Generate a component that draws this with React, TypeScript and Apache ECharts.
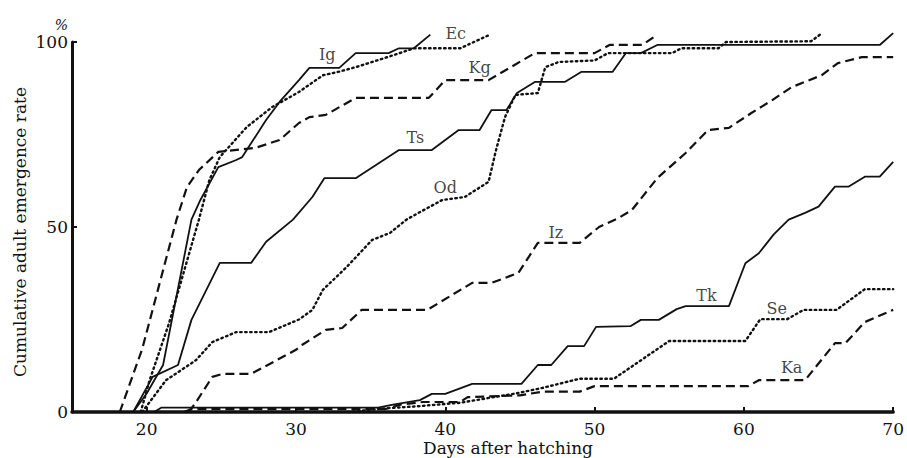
import React, { useEffect, useRef } from "react";
import * as echarts from "echarts";

// Days after hatching, cumulative adult emergence rate (%)
const igData = [[19.1,0],[20,5],[21.1,12.7],[23,52],[23.6,57.3],[24.8,66.2],[26,68.1],[26.4,68.9],[28,78.9],[28.9,83.8],[30.2,89.7],[30.9,93],[32.9,93],[34,97],[36.2,97],[36.9,98.3],[37.9,98.3],[39,102]];
const ecData = [[19.6,0],[20.2,8.6],[21.5,24],[23.5,52],[24.2,62.7],[24.9,68.9],[26.7,77],[28.4,82.4],[30.2,86.5],[31.8,91],[32.9,92],[34,93.2],[36.2,96],[37.9,98.3],[41,98.3],[43,102]];
const kgData = [[18.2,0],[19.7,17],[22,52],[22.7,60.8],[23.5,65.4],[24.8,70.3],[27.3,71.4],[28.9,73.5],[30.2,78.1],[30.9,79.7],[32,80.3],[34,84.9],[38.9,84.9],[40,89.7],[42.9,89.7],[46,97],[50,97],[51,99.2],[53.2,99.2],[54.2,102]];
const tsData = [[19.1,0],[20.4,9.5],[22.1,12.7],[23,24.9],[24.9,40.3],[27,40.3],[28,46],[29.8,52],[31.1,58.1],[31.9,63.2],[34,63.2],[36.9,70.8],[39.1,70.8],[40.9,76.2],[42.3,76.2],[43.1,81.6],[44.1,81.6],[44.8,86.2],[46,89.2],[48,89.2],[49.1,91.9],[51.2,91.9],[52.1,97],[53.1,97],[54.2,99.2],[69.1,99.2],[70,102.4]];
const odData = [[19.7,0],[21.3,8.6],[23.3,14],[24.4,18.9],[26,21.6],[28.2,21.6],[30.2,25],[31.1,27.6],[31.8,33],[33.4,39.2],[35.1,46.5],[36.3,48.4],[37.4,52],[38.2,53.8],[39.8,57.3],[41.3,58.1],[42.9,62.2],[43.4,70.8],[44,79.7],[44.7,85.7],[46.2,86.2],[46.7,93.2],[47.6,94.6],[50,95],[50.9,97],[55.2,97],[55.8,98.3],[58.3,98.3],[58.8,100],[64.5,100.2],[65.1,102]];
const izData = [[22.8,0],[23.2,2],[24.4,9.5],[25.1,10.3],[27,10.3],[30,16.8],[30.4,18.1],[32,22.2],[33.1,22.7],[34.4,27.6],[38.8,27.6],[41.8,34.9],[43.1,34.9],[44.9,37.6],[46.2,45.7],[49,45.7],[50.3,50],[51.6,52.4],[52.5,54.6],[54.2,63.2],[56.1,70],[57.6,76.2],[59,76.8],[60.5,80.8],[61.9,84.3],[63.2,87.8],[65.2,91],[66.3,94.3],[67.9,95.9],[70,95.9]];
const tkData = [[20.5,0],[21,1.2],[35.5,1.2],[36.5,2],[38.3,3.2],[39.1,4.9],[40,4.9],[41.8,7.6],[45.1,7.6],[46.2,12.7],[47.1,12.7],[48.2,17.8],[49.3,17.8],[50.1,23],[52.4,23.2],[53.1,24.9],[54.3,24.9],[55.5,27.8],[56.1,28.6],[59,28.6],[60.1,40.2],[61,42.9],[62,48],[63,52],[64.1,53.8],[65,55.5],[66.1,60.9],[67,60.9],[68.1,63.6],[69.1,63.6],[70,67.6]];
const seData = [[33.5,0],[36,1],[38,1.5],[41,2.5],[44.7,5],[46.5,6.5],[49,9],[51.3,9],[55,19.2],[60.1,19.2],[61.1,25.1],[62.9,25.1],[64,27.6],[66.2,27.6],[68.1,33.2],[70,33.2]];
const kaData = [[22.5,0],[23,0.8],[36,0.8],[37,2],[38.5,2.7],[41,2.7],[41.5,4],[45,4.5],[46.5,5.5],[49,5.5],[50,7],[60.3,7],[61,8.6],[64.1,8.6],[66.1,18.6],[66.8,18.6],[68.1,24.3],[70,27.6]];

const curveNames = ["Ig", "Ec", "Kg", "Ts", "Od", "Iz", "Tk", "Se", "Ka"];
const curveStyles = ["solid", "dotted", "dashed", "solid", "dotted", "dashed", "solid", "dotted", "dashed"];
const curveData = [igData, ecData, kgData, tsData, odData, izData, tkData, seData, kaData];
// label anchor [day, %] for each curve name
const labelPoints = [[32.1,96.5],[40.7,102.4],[42.3,93],[38.0,74.3],[40.0,60.8],[47.4,48.4],[57.5,31.6],[62.2,28.1],[63.2,11.9]];

const xTicks = [20, 30, 40, 50, 60, 70];
const yTicks = [0, 50, 100];

const FONT = "DejaVu Serif";
const INK = "#111111";

function lineStyleFor(kind: string) {
  if (kind === "dashed") return { type: [9, 5], width: 2.2, color: INK, cap: "butt" };
  if (kind === "dotted") return { type: [1.5, 3.5], width: 2.4, color: INK, cap: "round" };
  return { type: "solid", width: 1.8, color: INK };
}

export default function App() {
  const ref = useRef<HTMLDivElement>(null);
  useEffect(() => {
    if (!ref.current) return;
    const chart = echarts.init(ref.current, null, { renderer: "svg" });
    const series: any[] = curveData.map((d, i) => ({
      type: "line",
      name: curveNames[i],
      data: d,
      showSymbol: false,
      symbol: "none",
      clip: false,
      lineStyle: lineStyleFor(curveStyles[i]),
      z: 3,
    }));
    series.push({
      type: "scatter",
      name: "labels",
      data: labelPoints.map((p, i) => [p[0], p[1], curveNames[i]]),
      symbolSize: 0,
      clip: false,
      label: {
        show: true,
        position: "inside",
        formatter: (p: any) => p.value[2],
        fontFamily: FONT,
        fontSize: 16,
        color: INK,
      },
      z: 5,
    });
    chart.setOption({
      animation: false,
      backgroundColor: "#ffffff",
      grid: { left: 72, right: 12, top: 42, bottom: 46 },
      xAxis: {
        type: "value",
        min: 15,
        max: 70,
        splitLine: { show: false },
        axisLine: { show: true, onZero: false, lineStyle: { color: INK, width: 3.5 } },
        axisTick: { show: true, inside: true, length: 5, customValues: xTicks, lineStyle: { color: INK, width: 2 } },
        axisLabel: { customValues: xTicks, fontFamily: FONT, fontSize: 17, color: INK, margin: 8 },
      },
      yAxis: {
        type: "value",
        min: 0,
        max: 100,
        interval: 50,
        name: "%",
        nameLocation: "end",
        nameGap: 10,
        nameTextStyle: { fontFamily: FONT, fontSize: 14, color: INK, align: "right", padding: [0, 4, 0, 0], fontStyle: "italic" },
        splitLine: { show: false },
        axisLine: { show: true, lineStyle: { color: INK, width: 3 } },
        axisTick: { show: true, inside: true, length: 5, lineStyle: { color: INK, width: 2 } },
        axisLabel: { fontFamily: FONT, fontSize: 17, color: INK, margin: 4, customValues: yTicks },
      },
      graphic: [
        {
          type: "text",
          x: 20,
          y: 232,
          rotation: Math.PI / 2,
          style: {
            text: "Cumulative adult emergence rate",
            font: `17px "${FONT}"`,
            fill: INK,
            align: "center",
            verticalAlign: "middle",
          },
        },
        {
          type: "text",
          x: 508,
          y: 448,
          style: {
            text: "Days after hatching",
            font: `17px "${FONT}"`,
            fill: INK,
            align: "center",
            verticalAlign: "middle",
          },
        },
      ],
      series,
    });
    return () => chart.dispose();
  }, []);
  return (
    <div
      ref={ref}
      style={{ position: "fixed", left: 0, top: 0, width: 907, height: 458, background: "#fff" }}
    />
  );
}
